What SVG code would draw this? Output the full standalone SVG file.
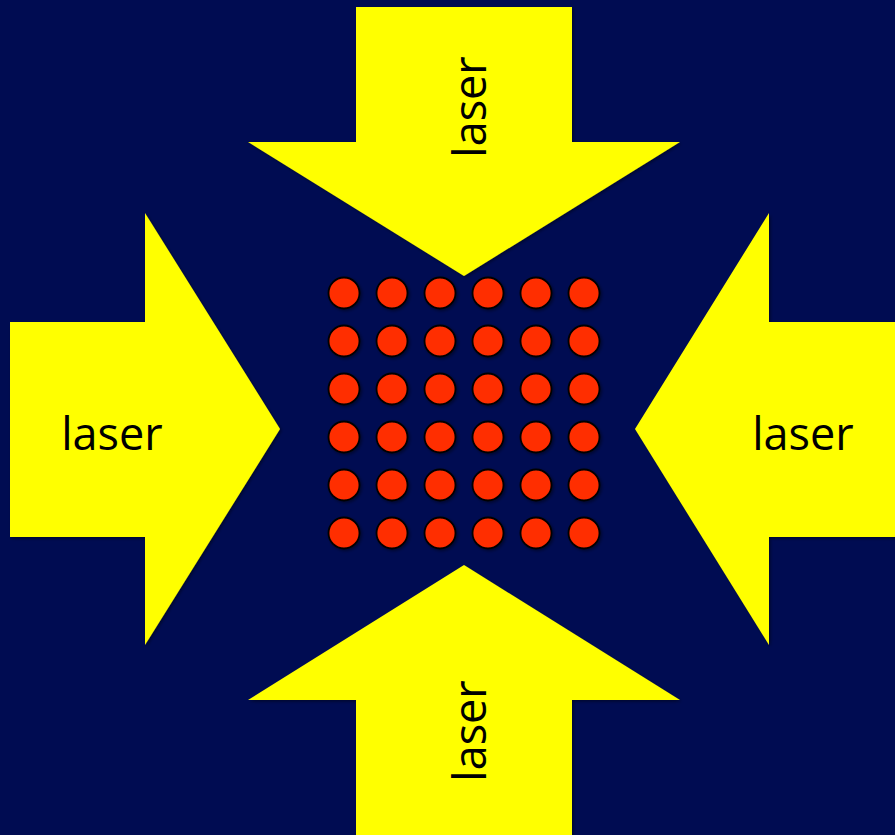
<svg xmlns="http://www.w3.org/2000/svg" width="895" height="835" viewBox="0 0 895 835">
  <defs>
    <style>
      .arrow { fill: #ffff00; filter: url(#shadow); }
      .lbl { font-family: "Open Sans", "Liberation Sans", sans-serif; font-size: 45px; fill: #000000; text-anchor: middle; }
      .atom { fill: #ff2d00; stroke: #000000; stroke-width: 1.8; filter: url(#shadow); }
    </style>
    <filter id="shadow" x="-10%" y="-10%" width="130%" height="130%">
      <feDropShadow dx="1.5" dy="1.5" stdDeviation="1.5" flood-color="#000000" flood-opacity="0.45"/>
    </filter>
  </defs>
  <rect x="0" y="0" width="895" height="835" fill="#000c52"/>

  <g id="arrow-top">
    <polygon class="arrow" points="356,7 572,7 572,142 680,142 464,276 248,142 356,142"/>
    <text class="lbl" transform="translate(486,107) rotate(-90)">laser</text>
  </g>
  <g id="arrow-bottom">
    <polygon class="arrow" points="464,565 680,700 572,700 572,840 356,840 356,700 248,700"/>
    <text class="lbl" transform="translate(486,731) rotate(-90)">laser</text>
  </g>
  <g id="arrow-left">
    <polygon class="arrow" points="10,322 145,322 145,213 280,429 145,645 145,537 10,537"/>
    <text class="lbl" x="112" y="450">laser</text>
  </g>
  <g id="arrow-right">
    <polygon class="arrow" points="900,322 769,322 769,213 635,429 769,645 769,537 900,537"/>
    <text class="lbl" x="803" y="450">laser</text>
  </g>

  <g id="atoms">
    <circle class="atom" cx="344" cy="293" r="15.5"/>
    <circle class="atom" cx="392" cy="293" r="15.5"/>
    <circle class="atom" cx="440" cy="293" r="15.5"/>
    <circle class="atom" cx="488" cy="293" r="15.5"/>
    <circle class="atom" cx="536" cy="293" r="15.5"/>
    <circle class="atom" cx="584" cy="293" r="15.5"/>
    <circle class="atom" cx="344" cy="341" r="15.5"/>
    <circle class="atom" cx="392" cy="341" r="15.5"/>
    <circle class="atom" cx="440" cy="341" r="15.5"/>
    <circle class="atom" cx="488" cy="341" r="15.5"/>
    <circle class="atom" cx="536" cy="341" r="15.5"/>
    <circle class="atom" cx="584" cy="341" r="15.5"/>
    <circle class="atom" cx="344" cy="389" r="15.5"/>
    <circle class="atom" cx="392" cy="389" r="15.5"/>
    <circle class="atom" cx="440" cy="389" r="15.5"/>
    <circle class="atom" cx="488" cy="389" r="15.5"/>
    <circle class="atom" cx="536" cy="389" r="15.5"/>
    <circle class="atom" cx="584" cy="389" r="15.5"/>
    <circle class="atom" cx="344" cy="437" r="15.5"/>
    <circle class="atom" cx="392" cy="437" r="15.5"/>
    <circle class="atom" cx="440" cy="437" r="15.5"/>
    <circle class="atom" cx="488" cy="437" r="15.5"/>
    <circle class="atom" cx="536" cy="437" r="15.5"/>
    <circle class="atom" cx="584" cy="437" r="15.5"/>
    <circle class="atom" cx="344" cy="485" r="15.5"/>
    <circle class="atom" cx="392" cy="485" r="15.5"/>
    <circle class="atom" cx="440" cy="485" r="15.5"/>
    <circle class="atom" cx="488" cy="485" r="15.5"/>
    <circle class="atom" cx="536" cy="485" r="15.5"/>
    <circle class="atom" cx="584" cy="485" r="15.5"/>
    <circle class="atom" cx="344" cy="533" r="15.5"/>
    <circle class="atom" cx="392" cy="533" r="15.5"/>
    <circle class="atom" cx="440" cy="533" r="15.5"/>
    <circle class="atom" cx="488" cy="533" r="15.5"/>
    <circle class="atom" cx="536" cy="533" r="15.5"/>
    <circle class="atom" cx="584" cy="533" r="15.5"/>
  </g>
</svg>
